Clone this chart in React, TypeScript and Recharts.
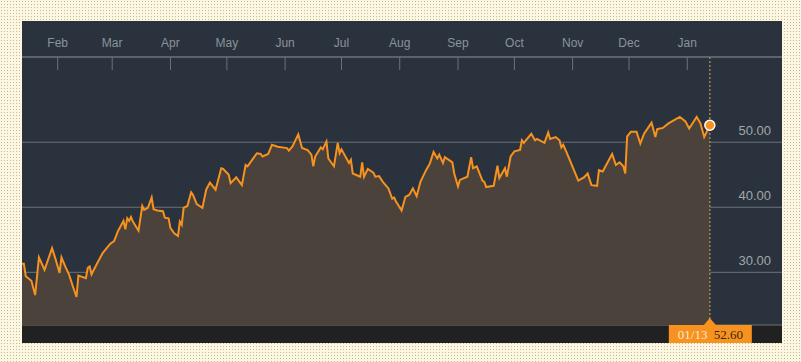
import { AreaChart, Area, XAxis, YAxis, CartesianGrid, ReferenceLine, ReferenceDot } from "recharts";

// days counted from 2016-01-13
const days = [
  0, 1, 2, 5, 7, 9, 12, 16, 18, 20,
  21, 23, 25, 27, 29, 30, 34, 35, 36, 37,
  40, 43, 47, 49, 51, 54, 55, 56, 57, 58,
  59, 62, 64, 65, 67, 69, 70, 72, 75, 76,
  78, 79, 81, 83, 84, 85, 86, 88, 90, 91,
  93, 96, 98, 100, 103, 106, 107, 110, 111, 114,
  117, 119, 120, 125, 127, 128, 131, 133, 136, 141,
  142, 144, 147, 149, 152, 154, 155, 156, 159, 160,
  162, 163, 166, 168, 169, 170, 174, 175, 176, 180,
  181, 182, 184, 187, 188, 190, 192, 195, 197, 198,
  199, 202, 204, 206, 208, 210, 212, 215, 217, 219,
  221, 222, 224, 225, 229, 230, 232, 233, 237, 239,
  240, 242, 245, 246, 247, 251, 253, 254, 257, 258,
  260, 262, 265, 266, 267, 271, 273, 274, 278, 280,
  281, 284, 286, 287, 288, 290, 292, 296, 299, 301,
  303, 306, 307, 309, 314, 316, 318, 320, 321, 322,
  324, 327, 329, 331, 335, 337, 338, 341, 344, 347,
  350, 353, 355, 359, 361, 363, 366,
];

const prices = [
  31.3, 31.3, 29.4, 28.7, 26.5, 32.3, 30.4, 33.7, 31.9, 29.9,
  32.3, 30.9, 29.7, 27.9, 26.2, 29.5, 29.1, 30.7, 30.9, 29.7,
  31.4, 33.0, 34.4, 34.8, 36.3, 37.9, 36.6, 38.3, 37.9, 38.5,
  37.8, 36.4, 40.2, 39.6, 39.9, 41.5, 39.7, 39.5, 39.4, 38.4,
  38.3, 36.8, 36.0, 35.6, 37.8, 37.3, 39.9, 40.2, 42.3, 41.9,
  40.5, 39.9, 42.7, 43.8, 42.7, 46.0, 45.9, 45.0, 43.7, 44.6,
  43.4, 46.5, 46.3, 48.3, 48.2, 47.8, 48.2, 49.6, 49.3, 49.1,
  48.7, 49.4, 51.2, 49.1, 48.8, 48.1, 46.3, 47.8, 49.2, 48.9,
  50.1, 47.5, 46.3, 49.9, 48.3, 48.9, 46.8, 47.3, 45.2, 44.7,
  46.9, 44.7, 45.9, 45.3, 44.7, 44.8, 43.9, 42.9, 41.3, 41.5,
  40.9, 39.5, 41.6, 41.9, 42.9, 41.7, 43.9, 45.7, 46.7, 48.5,
  47.5, 48.1, 46.8, 47.7, 46.9, 45.2, 43.2, 44.2, 44.7, 47.7,
  46.0, 46.3, 44.1, 43.9, 43.1, 43.3, 46.4, 44.5, 46.0, 44.7,
  47.8, 48.6, 48.8, 50.3, 49.9, 51.3, 50.3, 50.5, 49.9, 51.5,
  50.5, 50.8, 50.3, 49.2, 49.6, 48.3, 46.9, 44.1, 44.6, 45.2,
  43.4, 43.3, 45.7, 45.5, 48.2, 46.5, 46.9, 46.3, 45.2, 50.9,
  51.6, 51.6, 49.8, 51.3, 53.0, 50.8, 52.0, 52.2, 52.9, 53.4,
  53.9, 53.2, 52.1, 53.9, 52.9, 50.8, 52.6,
];

const monthTicks = [19, 48, 79, 109, 140, 170, 201, 232, 262, 293, 323, 354];
const monthLabels = ["Feb", "Mar", "Apr", "May", "Jun", "Jul", "Aug", "Sep", "Oct", "Nov", "Dec", "Jan"];
const priceTicks = [30, 40, 50];

const lastDay = 366;
const lastPrice = 52.6;
const lastLabel = "01/13";

const data = days.map((d, i) => ({ day: d, price: prices[i] }));

const ORANGE = "#f7921f";

function MonthTick(props: any) {
  const { x, y, payload } = props;
  const i = monthTicks.indexOf(payload.value);
  return (
    <g>
      <line x1={x} y1={y} x2={x} y2={y + 13} stroke="#6c737c" strokeWidth={1} />
      <text x={x} y={y - 10} textAnchor="middle" fill="#8b939c" fontSize={12} fontFamily="Liberation Sans, Arial, sans-serif">
        {monthLabels[i]}
      </text>
    </g>
  );
}

// labels sit just above their gridline, right-aligned near the panel edge
function PriceTick(props: any) {
  const { y, payload } = props;
  return (
    <text x={749} y={y - 7} textAnchor="end" fill="#a2a6ab" fontSize={13} fontFamily="Liberation Sans, Arial, sans-serif">
      {Number(payload.value).toFixed(2)}
    </text>
  );
}

function LastLabel(props: any) {
  const { viewBox } = props;
  const x = viewBox.x;
  const bottom = viewBox.y + viewBox.height;
  return (
    <g>
      <polygon points={`${x - 6},${bottom} ${x},${bottom - 7} ${x + 6},${bottom}`} fill={ORANGE} />
      <rect x={x - 41} y={bottom} width={83} height={18} fill={ORANGE} />
      <text x={x - 32} y={bottom + 14} fill="#fde8cf" fontSize={13} fontFamily="Liberation Serif, serif">
        {lastLabel}
      </text>
      <text x={x + 4} y={bottom + 14} fill="#3a2616" fontSize={13} fontFamily="Liberation Serif, serif">
        {lastPrice.toFixed(2)}
      </text>
    </g>
  );
}

export default function App() {
  return (
    <div
      style={{
        position: "fixed",
        left: 0,
        top: 0,
        width: 801,
        height: 362,
        backgroundColor: "#fcf7e3",
        backgroundImage: "radial-gradient(#c9b88e 0.9px, transparent 0.9px)",
        backgroundSize: "3px 3px",
      }}
    >
      <div style={{ position: "absolute", left: 22, top: 21, width: 760, height: 322, background: "#29323d" }}>
        <div style={{ position: "absolute", left: 0, bottom: 0, width: 760, height: 18, background: "#212121" }} />
        <AreaChart width={760} height={322} data={data} margin={{ top: 0, right: 0, bottom: 18, left: 0 }}>
          <CartesianGrid vertical={false} stroke="#6f7277" strokeWidth={1} />
          <XAxis
            dataKey="day"
            type="number"
            orientation="top"
            domain={[0, 404.4]}
            ticks={monthTicks}
            height={36}
            tickSize={0}
            tickMargin={0}
            tickLine={false}
            axisLine={{ stroke: "#6c737c" }}
            tick={<MonthTick />}
            interval={0}
          />
          <YAxis
            orientation="right"
            mirror
            width={60}
            domain={[21.9, 63.1]}
            ticks={priceTicks}
            tickLine={false}
            axisLine={false}
            tick={<PriceTick />}
            interval={0}
          />
          <Area
            type="linear"
            dataKey="price"
            stroke={ORANGE}
            strokeWidth={2}
            fill="#4b423b"
            fillOpacity={1}
            isAnimationActive={false}
            dot={false}
            activeDot={false}
          />
          <ReferenceLine
            x={lastDay}
            stroke="#a08550"
            strokeWidth={1.5}
            strokeDasharray="2 2"
            label={<LastLabel />}
          />
          <ReferenceDot x={lastDay} y={lastPrice} r={5} fill={ORANGE} stroke="#ffffff" strokeWidth={1.5} />
        </AreaChart>
      </div>
    </div>
  );
}
